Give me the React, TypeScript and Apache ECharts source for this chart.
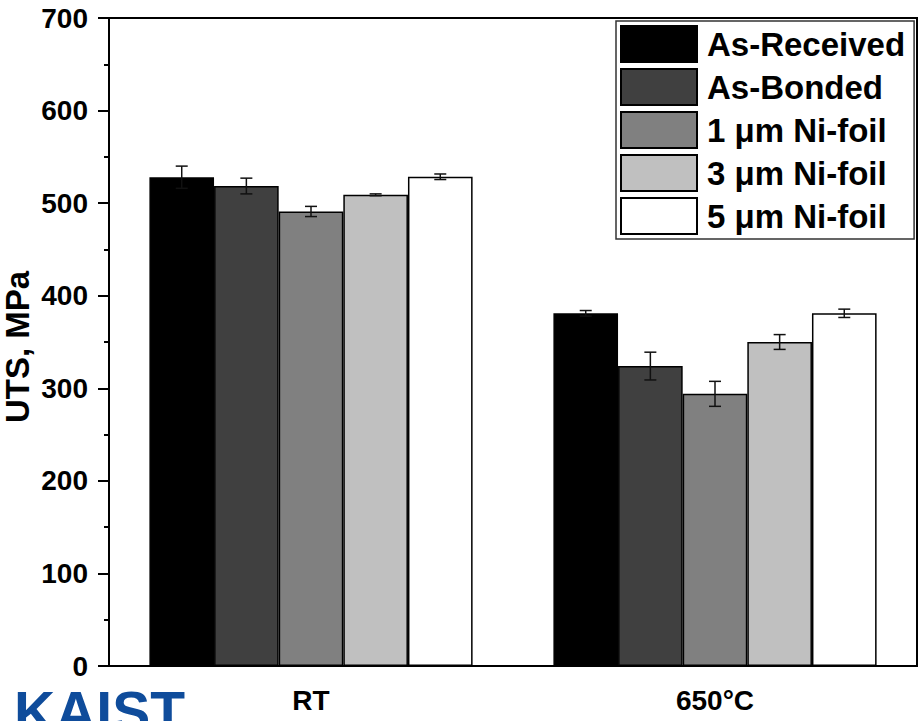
import React, { useEffect, useRef } from "react";
import * as echarts from "echarts";

const categories = ["RT", "650°C"];
const seriesNames = ["As-Received", "As-Bonded", "1 μm Ni-foil", "3 μm Ni-foil", "5 μm Ni-foil"];
const seriesColors = ["#000000", "#404040", "#808080", "#c0c0c0", "#ffffff"];
const meanValues = [
  [528, 381],
  [518.5, 324],
  [491, 294],
  [509, 350],
  [528.5, 381],
];
const errValues = [
  [12, 3],
  [8.5, 15],
  [5.5, 13.5],
  [1, 8],
  [3, 4.5],
];
const yTicks = { min: 0, max: 700, interval: 100 };
const yAxisTitle = "UTS, MPa";

const FONT = "'Liberation Sans', Arial, sans-serif";

export default function App() {
  const ref = useRef<HTMLDivElement>(null);
  useEffect(() => {
    if (!ref.current) return;
    const chart = echarts.init(ref.current, null, { renderer: "svg" });

    const barSeries = seriesNames.map((name, i) => ({
      name,
      type: "bar",
      data: meanValues[i],
      barGap: "0%",
      barCategoryGap: "20%",
      itemStyle: { color: seriesColors[i], borderColor: "#000", borderWidth: 1.5 },
      z: 2,
    }));

    const errData: number[][] = [];
    seriesNames.forEach((_, s) => {
      categories.forEach((_, c) => {
        errData.push([c, s, meanValues[s][c] - errValues[s][c], meanValues[s][c] + errValues[s][c]]);
      });
    });

    const errSeries = {
      type: "custom",
      name: "err",
      data: errData,
      z: 5,
      renderItem: (params: any, api: any) => {
        const c = api.value(0);
        const s = api.value(1);
        const lo = api.value(2);
        const hi = api.value(3);
        const band = api.size([1, 0])[0];
        const bw = (band * 0.8) / 5;
        const p0 = api.coord([c, lo]);
        const p1 = api.coord([c, hi]);
        const x = p0[0] + (s - 2) * bw;
        const cap = 6;
        const style = { stroke: "#111", lineWidth: 1.5 };
        return {
          type: "group",
          children: [
            { type: "line", shape: { x1: x, y1: p0[1], x2: x, y2: p1[1] }, style },
            { type: "line", shape: { x1: x - cap, y1: p0[1], x2: x + cap, y2: p0[1] }, style },
            { type: "line", shape: { x1: x - cap, y1: p1[1], x2: x + cap, y2: p1[1] }, style },
          ],
        };
      },
    };

    chart.setOption({
      animation: false,
      backgroundColor: "#fff",
      textStyle: { fontFamily: FONT },
      grid: {
        left: 109,
        right: 7,
        top: 18,
        bottom: 55,
        show: true,
        borderColor: "#000",
        borderWidth: 2,
        backgroundColor: "transparent",
        outerBoundsMode: "none",
        containLabel: false,
      },
      legend: {
        data: seriesNames.map((n) => ({ name: n, icon: "rect" })),
        orient: "vertical",
        left: 616,
        top: 21,
        padding: [4, 9, 4, 4],
        itemWidth: 76,
        itemHeight: 36,
        itemGap: 5,
        backgroundColor: "#fff",
        borderColor: "#333",
        borderWidth: 1.5,
        borderRadius: 0,
        selectedMode: false,
        textStyle: {
          fontFamily: FONT,
          fontWeight: "bold",
          fontSize: 33,
          lineHeight: 36,
          color: "#000",
          padding: [0, 0, 0, 5],
        },
      },
      xAxis: {
        type: "category",
        data: categories,
        axisLine: { lineStyle: { color: "#000", width: 2 } },
        axisTick: { alignWithLabel: true, length: 11, lineStyle: { color: "#000", width: 2 } },
        axisLabel: { fontFamily: FONT, fontWeight: "bold", fontSize: 28, color: "#000", margin: 20 },
      },
      yAxis: {
        type: "value",
        min: yTicks.min,
        max: yTicks.max,
        interval: yTicks.interval,
        axisLine: { show: true, lineStyle: { color: "#000", width: 2 } },
        axisTick: { show: true, length: 11, lineStyle: { color: "#000", width: 2 } },
        minorTick: { show: true, splitNumber: 2, length: 5, lineStyle: { color: "#000", width: 2 } },
        splitLine: { show: false },
        axisLabel: { fontFamily: FONT, fontWeight: "bold", fontSize: 28, color: "#000", margin: 21 },
      },
      graphic: [
        {
          type: "text",
          x: 17,
          y: 347,
          rotation: Math.PI / 2,
          style: {
            text: yAxisTitle,
            fontFamily: FONT,
            fontWeight: "bold",
            fontSize: 33,
            fill: "#000",
            align: "center",
            verticalAlign: "middle",
          },
          z: 10,
        },
        {
          type: "text",
          left: 14,
          top: 683,
          style: {
            text: "KAIST",
            fontFamily: FONT,
            fontWeight: "bold",
            fontSize: 57,
            fill: "#0f4c9b",
          },
          z: 10,
        },
      ],
      series: [...barSeries, errSeries],
    });
    return () => chart.dispose();
  }, []);

  return (
    <div
      ref={ref}
      style={{ position: "absolute", left: 0, top: 0, width: 924, height: 721, overflow: "hidden" }}
    />
  );
}
